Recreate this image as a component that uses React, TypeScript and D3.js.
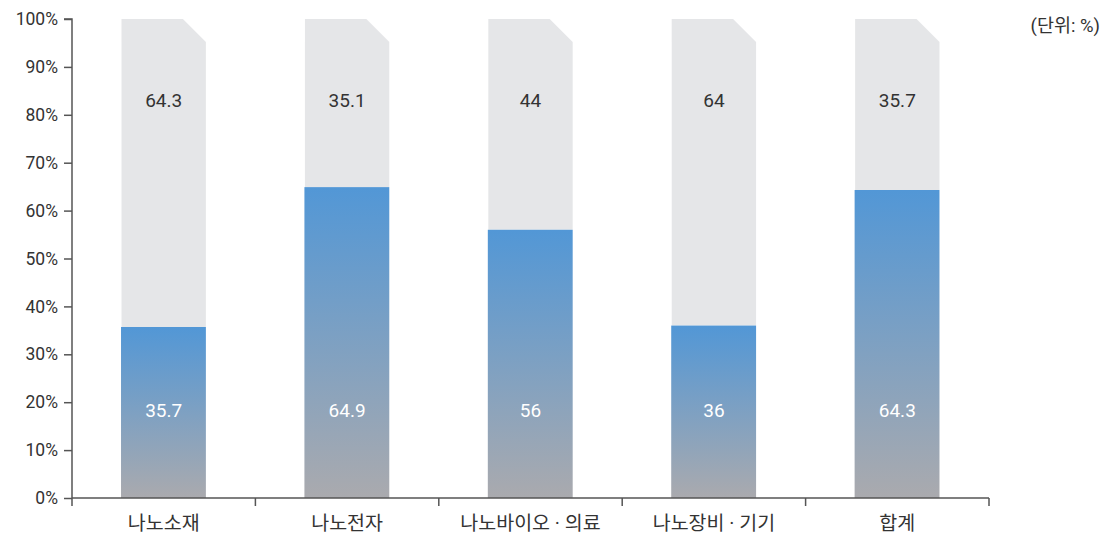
import React, { useEffect, useRef } from "react";
import * as d3 from "d3";

const categories = ["나노소재", "나노전자", "나노바이오 · 의료", "나노장비 · 기기", "합계"];
const bottomValues = [35.7, 64.9, 56, 36, 64.3];
const topValues = [64.3, 35.1, 44, 64, 35.7];
const yTicks = [0, 10, 20, 30, 40, 50, 60, 70, 80, 90, 100];

export default function App() {
  const svgRef = useRef<SVGSVGElement>(null);
  const width = 1104;
  const height = 536;

  useEffect(() => {
    if (!svgRef.current) return;
    const svg = d3.select(svgRef.current);
    svg.selectAll("*").remove();

    const margin = { top: 19, right: 115, bottom: 38, left: 72 };
    const innerWidth = width - margin.left - margin.right;
    const innerHeight = height - margin.top - margin.bottom;
    const font = "Roboto, 'Noto Sans CJK KR', sans-serif";

    const x = d3
      .scaleBand<string>()
      .domain(categories)
      .range([0, innerWidth])
      .paddingInner(0.54)
      .paddingOuter(0.27);

    const y = d3.scaleLinear().domain([0, 100]).range([innerHeight, 0]);

    // gradient per bar (top blue -> bottom gray)
    const defs = svg.append("defs");
    const grad = defs
      .append("linearGradient")
      .attr("id", "barGrad")
      .attr("x1", 0)
      .attr("y1", 0)
      .attr("x2", 0)
      .attr("y2", 1);
    grad.append("stop").attr("offset", "0%").attr("stop-color", "#5297d6");
    grad.append("stop").attr("offset", "100%").attr("stop-color", "#aaaaae");

    const g = svg
      .append("g")
      .attr("transform", `translate(${margin.left},${margin.top})`);

    const cut = 23;
    const bw = x.bandwidth();

    categories.forEach((c, i) => {
      const x0 = x(c)!;
      const x1 = x0 + bw;
      const yTop = y(100);
      const yBot = y(bottomValues[i]);
      // gray upper part with clipped corner
      g.append("path")
        .attr(
          "d",
          `M${x0},${yBot}L${x0},${yTop}L${x1 - cut},${yTop}L${x1},${yTop + cut}L${x1},${yBot}Z`
        )
        .attr("fill", "#e5e6e8");

      g.append("rect")
        .attr("x", x0 - 0.5)
        .attr("y", y(bottomValues[i]))
        .attr("width", bw + 0.5)
        .attr("height", innerHeight - y(bottomValues[i]))
        .attr("fill", "url(#barGrad)");

      g.append("text")
        .attr("x", x0 + bw / 2)
        .attr("y", y(82.6))
        .attr("text-anchor", "middle")
        .attr("dominant-baseline", "middle")
        .attr("font-family", font)
        .attr("font-size", 19)
        .attr("fill", "#333333")
        .text(String(topValues[i]));

      g.append("text")
        .attr("x", x0 + bw / 2)
        .attr("y", y(18))
        .attr("text-anchor", "middle")
        .attr("dominant-baseline", "middle")
        .attr("font-family", font)
        .attr("font-size", 19)
        .attr("fill", "#ffffff")
        .text(String(bottomValues[i]));
    });

    // y axis
    const yAxis = g
      .append("g")
      .call(
        d3
          .axisLeft(y)
          .tickValues(yTicks)
          .tickSize(8)
          .tickPadding(6)
          .tickFormat((d) => `${d}%`)
      );
    yAxis.select(".domain").attr("d", `M-8,0H0V${innerHeight + 8}`);
    yAxis
      .selectAll("text")
      .attr("font-family", font)
      .attr("font-size", 17.5)
      .attr("fill", "#333333");
    yAxis.selectAll(".domain, .tick line").attr("stroke", "#555555").attr("stroke-width", 1.5);

    // x axis with ticks at band boundaries
    const xAxis = g.append("g").attr("transform", `translate(0,${innerHeight})`);
    xAxis
      .append("line")
      .attr("x1", 0)
      .attr("x2", innerWidth)
      .attr("y1", 0)
      .attr("y2", 0)
      .attr("stroke", "#555555")
      .attr("stroke-width", 1.5);
    const gap = x.step() - bw;
    const bounds = categories
      .slice(0, -1)
      .map((c) => x(c)! + bw + gap / 2)
      .concat([innerWidth]);
    xAxis
      .selectAll(".bt")
      .data(bounds)
      .enter()
      .append("line")
      .attr("x1", (d) => d)
      .attr("x2", (d) => d)
      .attr("y1", 0)
      .attr("y2", 8)
      .attr("stroke", "#555555")
      .attr("stroke-width", 1.5);
    xAxis
      .selectAll(".lbl")
      .data(categories)
      .enter()
      .append("text")
      .attr("x", (d) => x(d)! + bw / 2)
      .attr("y", 27)
      .attr("text-anchor", "middle")
      .attr("dominant-baseline", "middle")
      .attr("font-family", font)
      .attr("font-size", 19.5)
      .attr("fill", "#333333")
      .text((d) => d);

    svg
      .append("text")
      .attr("x", width - 4)
      .attr("y", 32)
      .attr("text-anchor", "end")
      .attr("font-family", font)
      .attr("font-size", 18.5)
      .attr("fill", "#333333")
      .text("(단위: %)");
  }, []);

  return (
    <svg
      ref={svgRef}
      width={width}
      height={height}
      style={{ position: "absolute", left: 0, top: 0, background: "#fff" }}
    />
  );
}
